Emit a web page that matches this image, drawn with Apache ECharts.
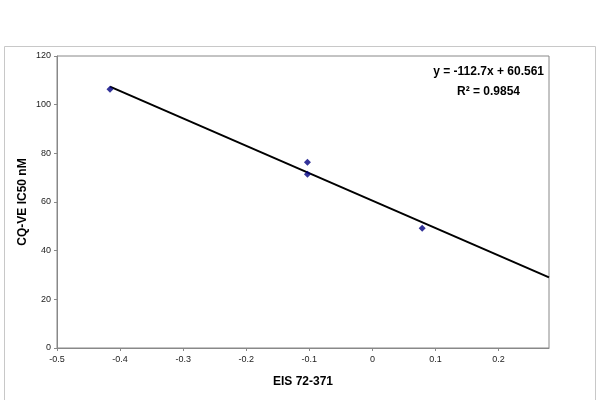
<!DOCTYPE html>
<html>
<head>
<meta charset="utf-8">
<script src="https://cdn.jsdelivr.net/npm/echarts@6/dist/echarts.min.js"></script>
<style>
  html, body { margin: 0; padding: 0; background: #fff; }
  #chart { width: 600px; height: 400px; }
</style>
</head>
<body>
<div id="chart"></div>
<script>
// measured points
var eisValues = [-0.416, -0.103, -0.103, 0.079];
var ic50Values = [106.3, 76.3, 71.4, 49.2];
// linear trendline shown on the chart
var trendSlope = -112.7;
var trendIntercept = 60.561;
var trendR2 = 0.9854;
var xMin = -0.5, xMax = 0.28;

var points = eisValues.map(function (x, i) { return [x, ic50Values[i]]; });
var trendStart = Math.min.apply(null, eisValues);
var trendLine = [trendStart, xMax].map(function (x) {
  return [x, trendSlope * x + trendIntercept];
});

var chart = echarts.init(document.getElementById('chart'));
var axisColor = '#888888';
var font = 'Liberation Sans, Arial, sans-serif';

chart.setOption({
  backgroundColor: '#ffffff',
  animation: false,
  textStyle: { fontFamily: font },
  graphic: [{
    type: 'rect',
    shape: { x: 4.5, y: 46.5, width: 591, height: 360 },
    style: { fill: 'none', stroke: '#c8c8c8', lineWidth: 1 },
    silent: true
  }, {
    type: 'text',
    right: 56,
    top: 66,
    style: {
      text: 'y = ' + trendSlope + 'x + ' + trendIntercept,
      font: 'bold 12px ' + font,
      fill: '#000'
    }
  }, {
    type: 'text',
    left: 457,
    top: 86,
    style: {
      text: 'R\u00b2 = ' + trendR2,
      font: 'bold 12px ' + font,
      fill: '#000'
    }
  }],
  grid: {
    left: 57,
    top: 56,
    right: 51,
    bottom: 52,
    show: true,
    borderColor: axisColor,
    borderWidth: 1
  },
  xAxis: {
    type: 'value',
    min: xMin,
    max: xMax,
    interval: 0.1,
    name: 'EIS 72-371',
    nameLocation: 'middle',
    nameGap: 28,
    nameTextStyle: { fontWeight: 'bold', fontSize: 12, color: '#000', fontFamily: font },
    axisLine: { onZero: false, lineStyle: { color: axisColor } },
    axisTick: { length: 3, lineStyle: { color: axisColor } },
    axisLabel: {
      margin: 7,
      fontSize: 9,
      color: '#222',
      showMaxLabel: false,
      formatter: function (v) { return Math.round(v * 10) / 10; }
    },
    splitLine: { show: false }
  },
  yAxis: {
    type: 'value',
    min: 0,
    max: 120,
    interval: 20,
    name: 'CQ-VE IC50 nM',
    nameLocation: 'middle',
    nameGap: 28,
    nameMoveOverlap: false,
    nameTextStyle: { fontWeight: 'bold', fontSize: 12, color: '#000', fontFamily: font },
    axisLine: { show: true, onZero: false, lineStyle: { color: axisColor } },
    axisTick: { show: true, length: 3, lineStyle: { color: axisColor } },
    axisLabel: { margin: 6, fontSize: 9, color: '#222' },
    splitLine: { show: false }
  },
  series: [{
    name: 'trend',
    type: 'line',
    data: trendLine,
    symbol: 'none',
    lineStyle: { color: '#000', width: 2 },
    z: 2
  }, {
    name: 'data',
    type: 'scatter',
    data: points,
    symbol: 'diamond',
    symbolSize: 7,
    itemStyle: { color: '#000080' },
    z: 3
  }]
});
</script>
</body>
</html>
